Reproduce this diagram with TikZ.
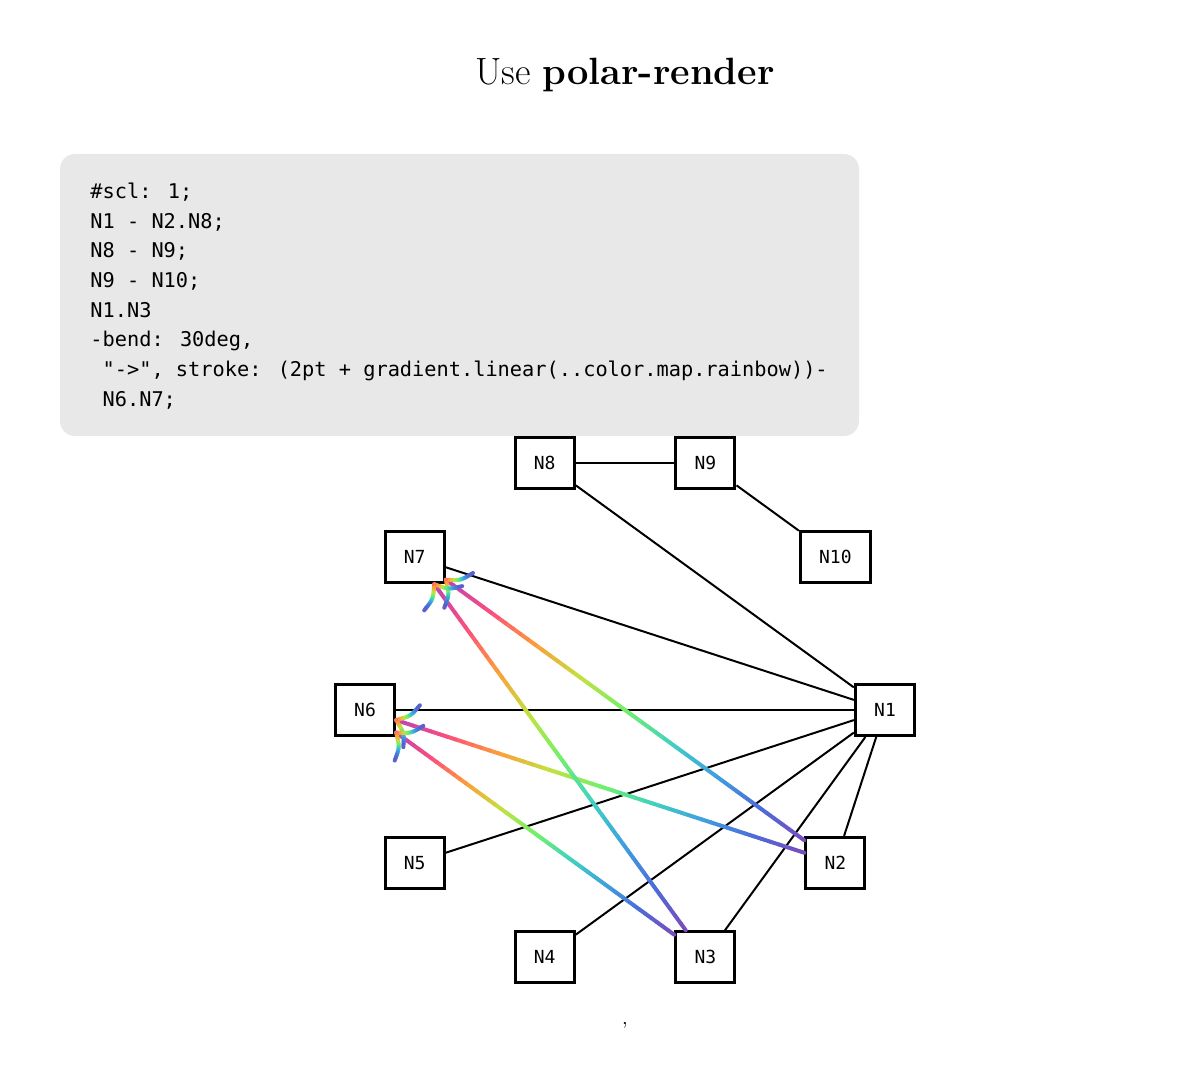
\documentclass[tikz,border=0pt]{standalone}
\usepackage{fontspec}
\usepackage{tikz}
\usetikzlibrary{calc}
\newfontfamily\monofont{DejaVu Sans Mono}

\definecolor{codebg}{HTML}{E8E8E8}
\definecolor{rb0}{HTML}{7C4BBB}
\definecolor{rb1}{HTML}{4B6BD9}
\definecolor{rb2}{HTML}{3FA0E0}
\definecolor{rb3}{HTML}{40D2C0}
\definecolor{rb4}{HTML}{71F06A}
\definecolor{rb5}{HTML}{C1E23F}
\definecolor{rb6}{HTML}{FD9F39}
\definecolor{rb7}{HTML}{FB4F7D}
\definecolor{rb8}{HTML}{BE44B2}

% colour rbseg at position #1 (0..1) of the rainbow
\newcommand\setrb[1]{%
  \pgfmathsetmacro\rbs{min(7.999,max(0,(#1)*8))}%
  \pgfmathtruncatemacro\rbk{floor(\rbs)}%
  \pgfmathtruncatemacro\rbn{\rbk+1}%
  \pgfmathtruncatemacro\rbf{round(100*(1+\rbk-\rbs))}%
  \colorlet{rbseg}{rb\rbk!\rbf!rb\rbn}}

\newcommand\rainbowshaft[2]{%
  \path (#1) -- (#2) coordinate[pos=0] (rs) coordinate[pos=1] (rt);
  \foreach \j in {0,...,47}{
    \setrb{(\j+0.5)/48}
    \draw[rbline, rbseg] ($(rs)!\j/48!(rt)$) -- ($(rs)!\j/48+1/48!(rt)$);
  }}

\newcommand\rainbowbarb[3]{%
  \foreach \j in {0,...,11}{
    \setrb{0.85-0.8*(\j+0.5)/12}
    \path (#1) .. controls (#2) .. (#3) coordinate[pos=\j/12] (bpa) coordinate[pos=\j/12+1/12] (bpb);
    \draw[rbline, rbseg] (bpa) -- (bpb);
  }}

\newcommand\rainbowtip[2]{%
  \path (#1) -- (#2) coordinate[pos=0] (src) coordinate[pos=1] (tip);
  \path let \p1=($(src)-(tip)$), \n1={atan2(\y1,\x1)} in
    coordinate (bu) at ($(tip)+(\n1+50:14pt)$)
    coordinate (buc) at ($(tip)+(\n1+33:7.5pt)$)
    coordinate (bl) at ($(tip)+(\n1-57:14pt)$)
    coordinate (blc) at ($(tip)+(\n1-40:7.5pt)$);
  \rainbowbarb{tip}{buc}{bu}
  \rainbowbarb{tip}{blc}{bl}}

\begin{document}
\begin{tikzpicture}[x=0.5pt,y=-0.5pt,
  nbox/.style={draw, line width=1.5pt, minimum height=25.5pt, inner xsep=9.4pt, inner ysep=0pt,
    font=\monofont\fontsize{9}{10}\selectfont},
  edge/.style={line width=1pt},
  codeline/.style={anchor=base west, inner sep=0pt, font=\monofont\fontsize{10.15}{12}\selectfont},
  rbline/.style={line width=2pt, line cap=round}]
\useasboundingbox (0,0) rectangle (1191,1085);

\node[anchor=base, font=\fontsize{19}{23}\selectfont] (title) at (625,85) {Use \textbf{polar-render}};

% code block
\fill[codebg, rounded corners=7.5pt] (60,154) rectangle (859,436);
\foreach \ln [count=\r from 0] in {{\#scl: 1;}, {N1 - N2.N8;}, {N8 - N9;}, {N9 - N10;}, {N1.N3},
    {-bend: 30deg,}, {\ "->", stroke: (2pt + gradient.linear(..color.map.rainbow))-}, {\ N6.N7;}}
  \node[codeline] (code\r) at (90,{198.5+29.7*\r}) {\ln};

% nodes on the circle
\coordinate (ctr) at (625,710);
\foreach \i in {1,...,10}
  \node[nbox] (N\i) at ($(ctr)+({(\i-1)*36}:260)$) {N\i};

\foreach \i in {2,...,8}
  \draw[edge] (N1) -- (N\i);
\draw[edge] (N8) -- (N9);
\draw[edge] (N9) -- (N10);

% rainbow arrows
\foreach \src/\dst in {N2/N6, N2/N7, N3/N6, N3/N7}
  {\rainbowshaft{\src}{\dst}}
\foreach \src/\dst in {N2/N6, N2/N7, N3/N6, N3/N7}
  {\rainbowtip{\src}{\dst}}

\node[anchor=base] (comma) at (625,1025) {,};
\end{tikzpicture}
\end{document}
